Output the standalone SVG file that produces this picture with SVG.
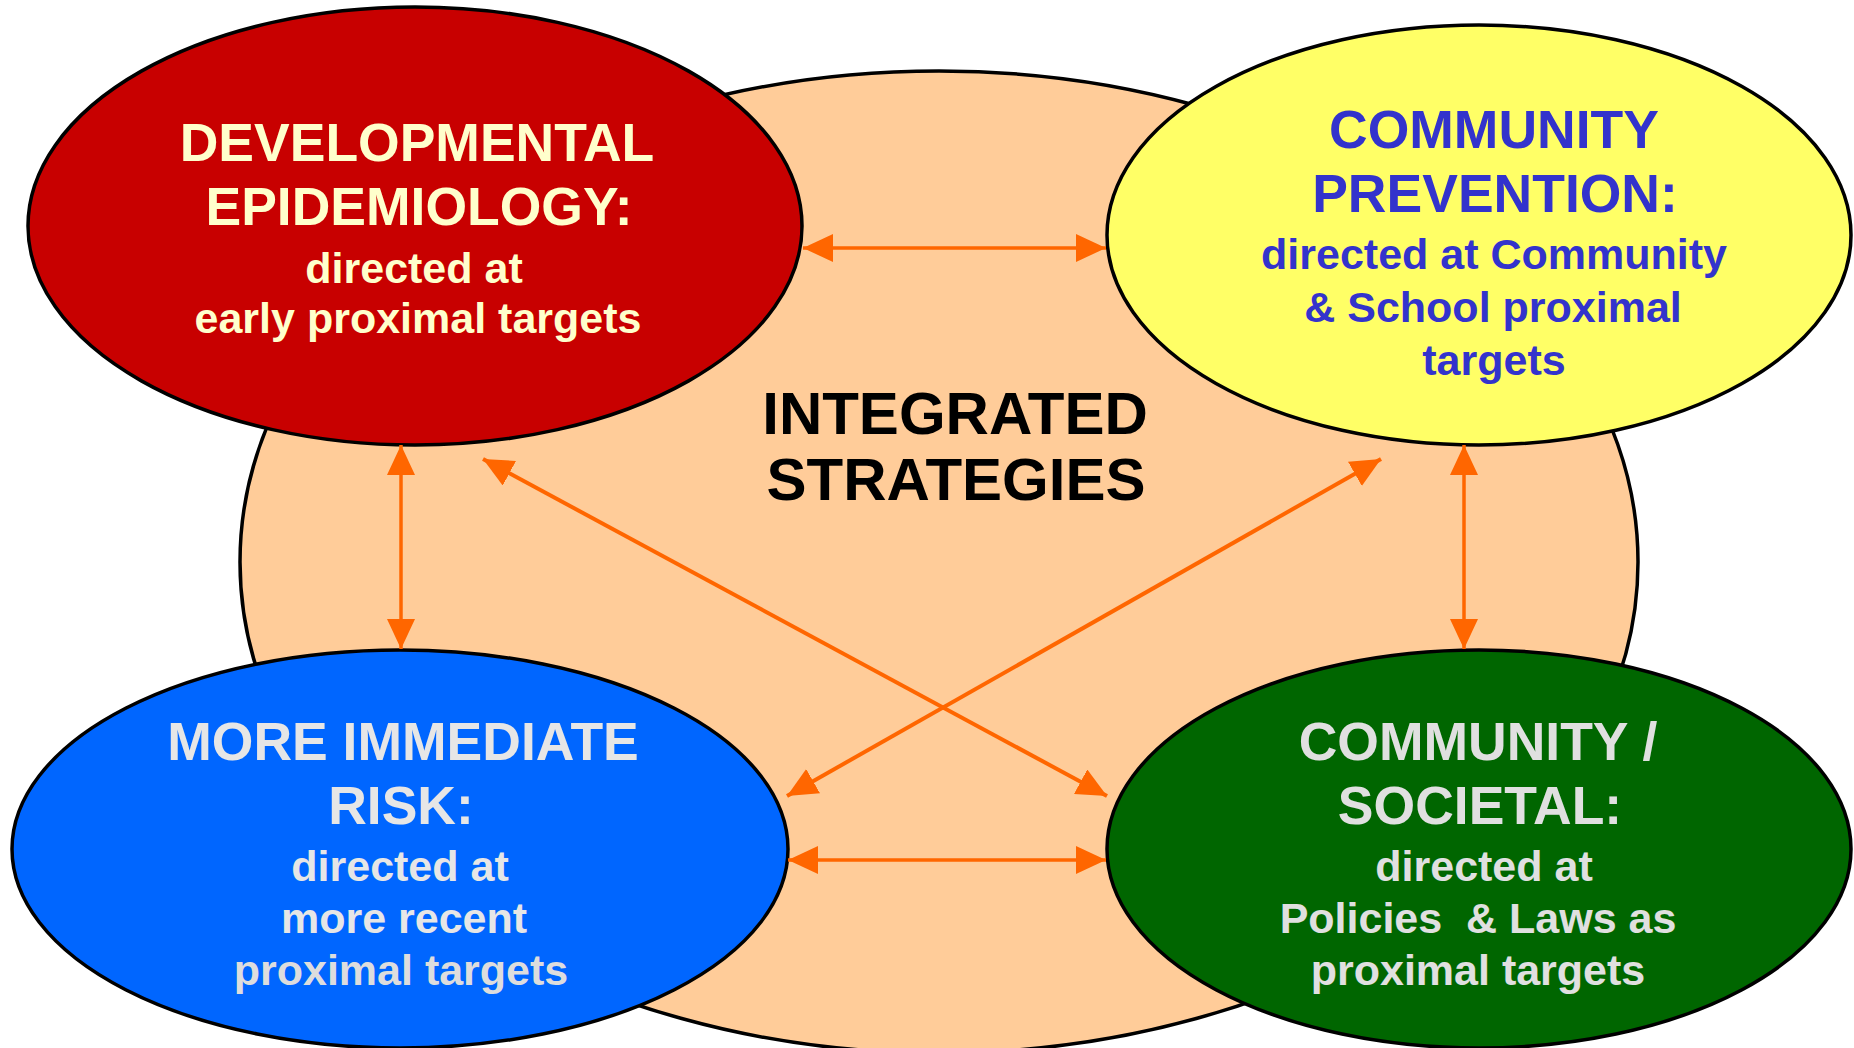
<svg xmlns="http://www.w3.org/2000/svg" width="1854" height="1048" viewBox="0 0 1854 1048">
<defs>
<style>
.ell{stroke:#000;stroke-width:3.5}
.t{font-family:"Liberation Sans",Arial,sans-serif;font-weight:bold;text-anchor:middle}
.h{font-size:53.5px}
.s{font-size:43px}
.c{stroke:#FF6600;stroke-width:3.5;fill:none;marker-start:url(#ah);marker-end:url(#ah)}
.d{stroke-width:4}
</style>
<marker id="ah" viewBox="0 0 30 28" refX="30" refY="14" markerWidth="30" markerHeight="28" markerUnits="userSpaceOnUse" orient="auto-start-reverse">
<path d="M0,0 L30,14 L0,28 Z" fill="#FF6600"/>
</marker>
</defs>
<rect width="1854" height="1048" fill="#fff"/>
<g id="integrated">
<ellipse class="ell" cx="939" cy="562" rx="699" ry="491" fill="#FFCC99"/>
</g>
<g id="developmental">
<ellipse class="ell" cx="415" cy="226" rx="387" ry="219" fill="#C80000"/>
<text class="t h" x="417" y="161" fill="#FFFFCC">DEVELOPMENTAL</text>
<text class="t h" x="419" y="225" fill="#FFFFCC">EPIDEMIOLOGY:</text>
<text class="t s" x="414" y="283" fill="#FFFFCC">directed at</text>
<text class="t s" x="418" y="333" fill="#FFFFCC">early proximal targets</text>
</g>
<g id="community-prevention">
<ellipse class="ell" cx="1479" cy="235" rx="372" ry="210" fill="#FFFF66"/>
<text class="t h" x="1494" y="148" fill="#3333CC">COMMUNITY</text>
<text class="t h" x="1495" y="212" fill="#3333CC">PREVENTION:</text>
<text class="t s" x="1494" y="269" fill="#3333CC">directed at Community</text>
<text class="t s" x="1493" y="322" fill="#3333CC">&amp; School proximal</text>
<text class="t s" x="1494" y="375" fill="#3333CC">targets</text>
</g>
<g id="immediate-risk">
<ellipse class="ell" cx="400" cy="849" rx="388" ry="199" fill="#0066FF"/>
<text class="t h" x="403" y="760" fill="#E6E6E6">MORE IMMEDIATE</text>
<text class="t h" x="401" y="824" fill="#E6E6E6">RISK:</text>
<text class="t s" x="400" y="881" fill="#E6E6E6">directed at</text>
<text class="t s" x="404" y="933" fill="#E6E6E6">more recent</text>
<text class="t s" x="401" y="985" fill="#DDDDDD">proximal targets</text>
</g>
<g id="societal">
<ellipse class="ell" cx="1479" cy="849" rx="372" ry="199" fill="#006600"/>
<text class="t h" x="1478" y="760" fill="#E0E0E0">COMMUNITY /</text>
<text class="t h" x="1480" y="824" fill="#E0E0E0">SOCIETAL:</text>
<text class="t s" x="1484" y="881" fill="#E0E0E0">directed at</text>
<text class="t s" x="1478" y="933" fill="#E0E0E0" xml:space="preserve">Policies  &amp; Laws as</text>
<text class="t s" x="1478" y="985" fill="#E0E0E0">proximal targets</text>
</g>
<g id="center-label">
<text class="t" x="955" y="434" font-size="60" fill="#000">INTEGRATED</text>
<text class="t" x="956" y="500" font-size="60" fill="#000">STRATEGIES</text>
</g>
<g id="connectors">
<line class="c" x1="803" y1="248" x2="1106" y2="248"/>
<line class="c" x1="788" y1="860" x2="1106" y2="860"/>
<line class="c" x1="401" y1="445" x2="401" y2="649"/>
<line class="c" x1="1464" y1="445" x2="1464" y2="649"/>
<line class="c d" x1="483" y1="459" x2="1107" y2="796"/>
<line class="c d" x1="1381" y1="459" x2="787" y2="796"/>
</g>
</svg>
